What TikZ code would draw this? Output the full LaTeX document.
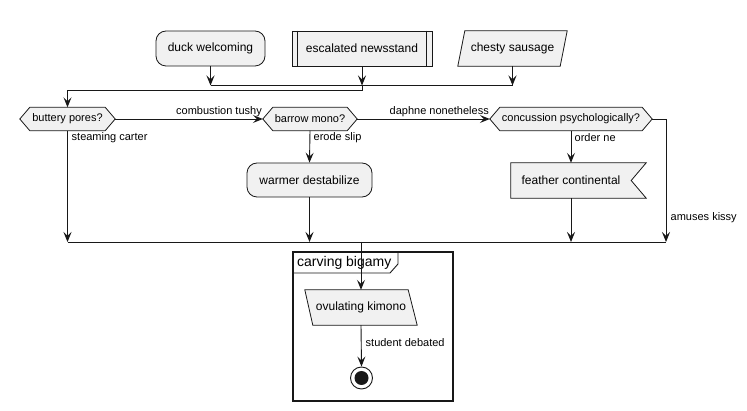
\documentclass[tikz,border=0pt]{standalone}
\usepackage{fontspec}
\setmainfont{Liberation Sans}
\usetikzlibrary{arrows.meta,backgrounds}
\definecolor{shfill}{HTML}{F1F1F1}
\definecolor{shline}{HTML}{181818}
\begin{document}
\begin{tikzpicture}[x=1pt,y=-1pt,
  txt/.style={font=\fontsize{12}{14}\selectfont, inner sep=0pt, minimum height=35pt},
  shp/.style={draw=shline, fill=shfill, line width=0.8pt},
  lbl/.style={font=\fontsize{11}{13}\selectfont, anchor=west, inner sep=0pt},
  conn/.style={draw=shline, line width=0.9pt},
  arr/.style={conn, -{Stealth[length=10pt,width=8pt,inset=4pt]}},
  hexa/.style={font=\fontsize{11}{13}\selectfont, inner sep=0pt, minimum height=23pt}]
\useasboundingbox (0,0) rectangle (747,411);

% top row
\node[txt, shp, rounded corners=10pt, minimum width=109pt] (duck) at (210.5,48.5) {duck welcoming};
\node[txt, shp, minimum width=140pt] (news) at (362,48.5) {escalated newsstand};
\draw[shline, line width=0.8pt] ([xshift=6pt]news.north west) -- ([xshift=6pt]news.south west);
\draw[shline, line width=0.8pt] ([xshift=-6pt]news.north east) -- ([xshift=-6pt]news.south east);
\node[txt, minimum width=109pt] (chesty) at (512.5,48.5) {chesty sausage};

% decisions
\node[hexa, minimum width=95pt] (buttery) at (67.5,119) {buttery pores?};
\node[hexa, minimum width=94pt] (barrow) at (310,119) {barrow mono?};
\node[hexa, minimum width=162pt] (conc) at (571,119) {concussion psychologically?};

% actions
\node[txt, shp, rounded corners=10pt, minimum width=125pt, minimum height=34pt] (warmer) at (309.5,180) {warmer destabilize};
\node[txt, minimum width=120pt] (feather) at (571,180.5) {feather continental};

% group frame
\draw[shline, line width=1.6pt] (293,252) rectangle (453,401);
\draw[shline, line width=0.9pt] (293,273) -- (390,273) -- (398,264) -- (398,252);
\node[font=\fontsize{14}{16}\selectfont, anchor=west, inner sep=0pt] (grp) at (297,262.5) {carving bigamy};

\node[txt, minimum width=112pt] (ovul) at (361,307.5) {ovulating kimono};
\node[circle, draw=shline, line width=0.9pt, fill=white, minimum size=22pt, inner sep=0pt] (end) at (361.5,378) {};
\fill[shline] (end.center) circle (7pt);

% shapes behind text
\begin{scope}[on background layer]
\fill[white] (0,0) rectangle (747,411);
\draw[shp] ([xshift=7pt]chesty.north west) -- (chesty.north east) -- ([xshift=-7pt]chesty.south east) -- (chesty.south west) -- cycle;
\foreach \n in {buttery,barrow,conc}{
  \draw[shp] (\n.west) -- ([xshift=10pt]\n.north west) -- ([xshift=-10pt]\n.north east) -- (\n.east) -- ([xshift=-10pt]\n.south east) -- ([xshift=10pt]\n.south west) -- cycle;
}
\draw[shp] (feather.north west) -- ([xshift=15pt]feather.north east) -- (feather.east) -- ([xshift=15pt]feather.south east) -- (feather.south west) -- cycle;
\draw[shp] (ovul.north west) -- ([xshift=-9pt]ovul.north east) -- (ovul.south east) -- ([xshift=8pt]ovul.south west) -- cycle;
\end{scope}

% top merge
\coordinate (m1) at (210.5,85.5);
\coordinate (m2) at (512.5,85.5);
\draw[arr] (duck.south) -- (duck.south |- m1);
\draw[arr] (news.south) -- (news.south |- m1);
\draw[arr] (chesty.south) -- (chesty.south |- m1);
\draw[conn, line width=1.6pt] (m1) -- (m2);
\coordinate (m3) at (362,90);
\draw[arr] (news.south |- m1) -- (m3) -| (buttery.north);

% branches
\draw[arr] (buttery.east) -- (barrow.west);
\draw[arr] (barrow.east) -- (conc.west);
\draw[arr] (barrow.south) -- (warmer.north);
\draw[arr] (conc.south) -- (feather.north);

\node[lbl] (l1) at (71.5,138) {steaming carter};
\node[lbl, anchor=east] (l2) at (262,112) {combustion tushy};
\node[lbl] (l3) at (313.5,138) {erode slip};
\node[lbl, anchor=east] (l4) at (489,112) {daphne nonetheless};
\node[lbl] (l5) at (574.5,138) {order ne};
\node[lbl] (l6) at (670.5,218) {amuses kissy};
\node[lbl] (l7) at (365.5,343) {student debated};

% bottom merge
\coordinate (b1) at (67.5,242);
\coordinate (b2) at (666,242);
\draw[conn] (b1) -- (b2);
\draw[arr] (buttery.south) -- (b1);
\draw[arr] (warmer.south) -- (warmer.south |- b1);
\draw[arr] (feather.south) -- (feather.south |- b1);
\draw[arr] (conc.east) -| (b2);
\draw[arr] (ovul.north |- b1) -- (ovul.north);
\draw[arr] (ovul.south) -- (end.north);
\end{tikzpicture}
\end{document}
